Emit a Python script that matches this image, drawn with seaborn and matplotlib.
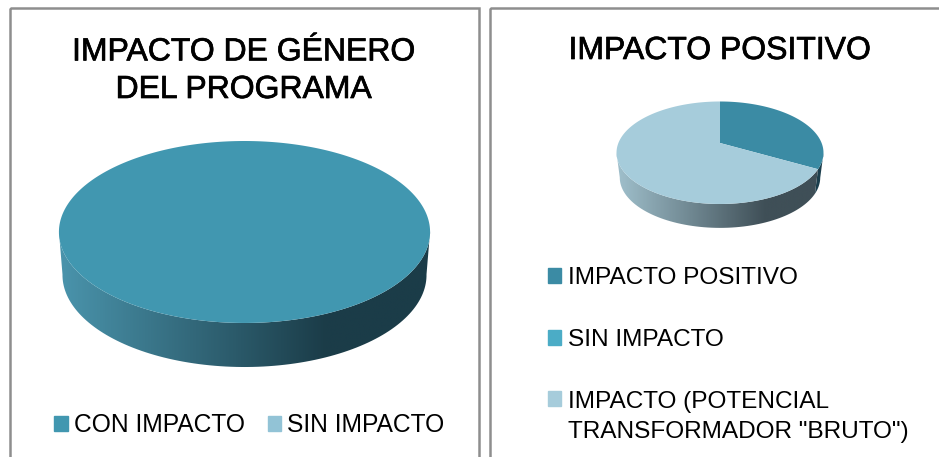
import numpy as np
import matplotlib
matplotlib.use("Agg")
import matplotlib.pyplot as plt
import matplotlib.patheffects as pe
import seaborn as sns
from matplotlib.patches import Patch, Polygon, Rectangle
from matplotlib.transforms import Affine2D

genero_title = "IMPACTO DE GÉNERO\nDEL PROGRAMA"
genero_labels = ["CON IMPACTO", "SIN IMPACTO"]
genero_values = [100, 0]
genero_colors = ["#4197b0", "#92c3d6"]

positivo_title = "IMPACTO POSITIVO"
positivo_labels = ["IMPACTO POSITIVO", "SIN IMPACTO", 'IMPACTO (POTENCIAL\nTRANSFORMADOR "BRUTO")']
positivo_values = [33, 0, 67]
positivo_colors = ["#3b8ba4", "#4bacc6", "#a6ccdb"]

sns.set_theme(style="white")
plt.rcParams['font.family'] = ['Liberation Sans', 'DejaVu Sans']

K = 0.19  # perspective of the tilted disc


def project(pts, cx, cy, a, b):
    w = 1 + K * pts[:, 1]
    return np.column_stack([cx + a * pts[:, 0] / w, cy - b * pts[:, 1] / w])


def pie3d(ax, values, colors, sides, top, bottom):
    wedges, _ = ax.pie(values, colors=colors, startangle=90, counterclock=False)
    for w, val, col, side in zip(wedges, values, colors, sides):
        polys = w.get_path().to_polygons(Affine2D().scale(1000), closed_only=False)
        w.remove()
        if val == 0:
            continue
        pts = max(polys, key=len) / 1000
        # side wall, front part of the arc only
        arc = pts[np.hypot(pts[:, 0], pts[:, 1]) > 0.99]
        arc = arc[arc[:, 1] <= -K + 0.02]
        if len(arc) > 1:
            # keep the arc in one run when it wraps past the back of the disc
            jump = np.argmax(np.hypot(*np.diff(arc, axis=0).T))
            if np.hypot(*(arc[jump + 1] - arc[jump])) > 0.2:
                arc = np.roll(arc, -(jump + 1), axis=0)
            wall = np.vstack([project(arc, *top), project(arc, *bottom)[::-1]])
            clip = Polygon(wall, closed=True, transform=ax.transData)
            cmap = sns.blend_palette(side, as_cmap=True)
            x0 = top[0] - top[2] * 1.02
            x1 = top[0] + top[2] * 1.02
            y0 = top[1] - top[3]
            y1 = bottom[1] + bottom[3] * 1.3
            grad = np.clip(np.linspace(0, 1, 256) / 0.72, 0, 1).reshape(1, -1)
            im = ax.imshow(grad, cmap=cmap, vmin=0, vmax=1, aspect='auto',
                           extent=(x0, x1, y1, y0), zorder=2)
            im.set_clip_path(clip)
        ax.add_patch(Polygon(project(pts, *top), closed=True, facecolor=col,
                             edgecolor='none', zorder=3))


fig = plt.figure(figsize=(9.39, 4.57), dpi=100)
ax = fig.add_axes([0, 0, 1, 1])

pie3d(ax, genero_values, genero_colors,
      [["#4a94ac", "#1b3c48"], ["#92c3d6", "#3f4f57"]],
      (244.5, 214.7, 182.2, 87.7), (244.5, 257.5, 178.7, 88.7))
pie3d(ax, positivo_values, positivo_colors,
      [["#3b8ba4", "#1c3f4d"], ["#4bacc6", "#1c3f4d"], ["#a0c0cc", "#3f4f57"]],
      (720, 143, 101.6, 49.4), (720, 168, 98.4, 48.5))

ax.set_aspect('auto')
ax.set_xlim(0, 939)
ax.set_ylim(457, 0)
ax.set_axis_off()

ax.add_patch(Rectangle((10, 7.5), 469, 520, fill=False, edgecolor="#8e8e8e", lw=1.8))
ax.add_patch(Rectangle((490, 7.5), 520, 520, fill=False, edgecolor="#8e8e8e", lw=1.8))

bold = [pe.withStroke(linewidth=0.5, foreground='black')]
ax.text(244, 98, genero_title, ha='center', va='baseline', fontsize=23,
        color='black', linespacing=1.33, path_effects=bold)
ax.text(720, 59, positivo_title, ha='center', va='baseline', fontsize=23, color='black',
        path_effects=bold)

leg1 = ax.legend([Patch(color=c) for c in genero_colors], genero_labels,
                 loc='center left', bbox_to_anchor=(54, 425), bbox_transform=ax.transData,
                 ncol=2, frameon=False, fontsize=17.7, borderpad=0, borderaxespad=0,
                 handlelength=0.55, handleheight=0.55, handletextpad=0.26, columnspacing=0.92,
                 labelcolor='black')
ax.add_artist(leg1)
leg2 = ax.legend([Patch(color=c) for c in positivo_colors], positivo_labels,
                 loc='upper left', bbox_to_anchor=(548, 267), bbox_transform=ax.transData,
                 frameon=False, fontsize=17.6, borderpad=0, borderaxespad=0,
                 handlelength=0.55, handleheight=0.55, handletextpad=0.26, labelspacing=1.63,
                 labelcolor='black')
# long label: marker sits next to its first line
leg2.get_texts()[2].set_linespacing(1.46)
marker = leg2.legend_handles[2]
marker.set_y(marker.get_y() + 13)

fig.savefig("out.png", dpi=100)
